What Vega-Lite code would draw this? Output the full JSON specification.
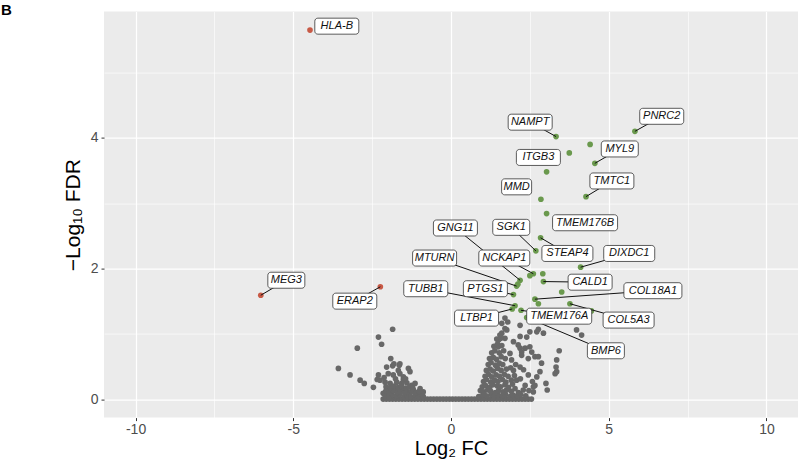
{
  "$schema": "https://vega.github.io/schema/vega-lite/v6.json",
  "width": 694,
  "height": 406,
  "autosize": {"type": "none"},
  "padding": {"left": 104, "top": 11.6, "right": 2, "bottom": 43.4},
  "background": "white",
  "view": {"fill": "#EBEBEB", "stroke": null},
  "title": {"text": "B", "anchor": "start", "frame": "group", "dx": -103, "offset": -6, "fontSize": 15, "fontWeight": "bold", "font": "Liberation Sans", "color": "black"},
  "config": {
    "font": "Liberation Sans",
    "axis": {"domain": false, "labelFont": "Liberation Sans", "labelFontSize": 14, "labelColor": "#4D4D4D", "tickColor": "#333333", "tickSize": 3, "tickWidth": 1, "gridColor": "#FFFFFF", "titleFont": "Liberation Sans", "titleFontSize": 21, "titleFontWeight": "normal", "titleColor": "#000000"}
  },
  "datasets": {
    "pts": [
      {"x": -4.47, "y": 5.65, "g": "down"}, {"x": -6.03, "y": 1.59, "g": "down"}, {"x": -2.24, "y": 1.72, "g": "down"},
      {"x": 3.33, "y": 4.02, "g": "up"}, {"x": 5.83, "y": 4.10, "g": "up"}, {"x": 4.41, "y": 3.90, "g": "up"}, {"x": 3.75, "y": 3.77, "g": "up"},
      {"x": 4.56, "y": 3.61, "g": "up"}, {"x": 3.03, "y": 3.48, "g": "up"}, {"x": 2.85, "y": 3.06, "g": "up"}, {"x": 4.28, "y": 3.10, "g": "up"},
      {"x": 3.03, "y": 2.84, "g": "up"}, {"x": 2.69, "y": 2.27, "g": "up"}, {"x": 2.84, "y": 2.47, "g": "up"}, {"x": 4.11, "y": 2.02, "g": "up"},
      {"x": 2.19, "y": 1.82, "g": "up"}, {"x": 2.12, "y": 1.76, "g": "up"}, {"x": 2.08, "y": 1.73, "g": "up"}, {"x": 2.61, "y": 1.92, "g": "up"},
      {"x": 2.50, "y": 1.89, "g": "up"}, {"x": 2.91, "y": 1.92, "g": "up"}, {"x": 2.93, "y": 1.80, "g": "up"}, {"x": 3.51, "y": 1.64, "g": "up"},
      {"x": 1.98, "y": 1.60, "g": "up"}, {"x": 2.03, "y": 1.43, "g": "up"}, {"x": 1.94, "y": 1.38, "g": "up"}, {"x": 2.22, "y": 1.36, "g": "up"},
      {"x": 2.66, "y": 1.53, "g": "up"}, {"x": 2.77, "y": 1.46, "g": "up"}, {"x": 3.77, "y": 1.46, "g": "up"}, {"x": 4.45, "y": 1.35, "g": "up"},
      {"x": 2.40, "y": 1.25, "g": "up"},
      {"x": -2.15, "y": 0, "g": "ns"}, {"x": -2.05, "y": 0, "g": "ns"}, {"x": -1.95, "y": 0, "g": "ns"}, {"x": -1.85, "y": 0, "g": "ns"},
      {"x": -1.75, "y": 0, "g": "ns"}, {"x": -1.65, "y": 0, "g": "ns"}, {"x": -1.55, "y": 0, "g": "ns"}, {"x": -1.45, "y": 0, "g": "ns"},
      {"x": -1.35, "y": 0, "g": "ns"}, {"x": -1.25, "y": 0, "g": "ns"}, {"x": -1.15, "y": 0, "g": "ns"}, {"x": -1.05, "y": 0, "g": "ns"},
      {"x": -0.95, "y": 0, "g": "ns"}, {"x": -0.85, "y": 0, "g": "ns"}, {"x": -0.75, "y": 0, "g": "ns"}, {"x": -0.65, "y": 0, "g": "ns"},
      {"x": -0.55, "y": 0, "g": "ns"}, {"x": -0.45, "y": 0, "g": "ns"}, {"x": -0.35, "y": 0, "g": "ns"}, {"x": -0.25, "y": 0, "g": "ns"},
      {"x": -0.15, "y": 0, "g": "ns"}, {"x": -0.05, "y": 0, "g": "ns"}, {"x": 0.05, "y": 0, "g": "ns"}, {"x": 0.15, "y": 0, "g": "ns"},
      {"x": 0.25, "y": 0, "g": "ns"}, {"x": 0.35, "y": 0, "g": "ns"}, {"x": 0.45, "y": 0, "g": "ns"}, {"x": 0.55, "y": 0, "g": "ns"},
      {"x": 0.65, "y": 0, "g": "ns"}, {"x": 0.75, "y": 0, "g": "ns"}, {"x": 0.85, "y": 0, "g": "ns"}, {"x": 0.95, "y": 0, "g": "ns"},
      {"x": 1.05, "y": 0, "g": "ns"}, {"x": 1.15, "y": 0, "g": "ns"}, {"x": 1.25, "y": 0, "g": "ns"}, {"x": 1.35, "y": 0, "g": "ns"},
      {"x": 1.45, "y": 0, "g": "ns"}, {"x": 1.55, "y": 0, "g": "ns"}, {"x": 1.65, "y": 0, "g": "ns"}, {"x": 1.75, "y": 0, "g": "ns"},
      {"x": 1.85, "y": 0, "g": "ns"}, {"x": 1.95, "y": 0, "g": "ns"}, {"x": 2.05, "y": 0, "g": "ns"}, {"x": 2.15, "y": 0, "g": "ns"},
      {"x": 2.25, "y": 0, "g": "ns"}, {"x": 2.35, "y": 0, "g": "ns"}, {"x": 2.45, "y": 0, "g": "ns"}, {"x": 2.55, "y": 0, "g": "ns"},
      {"x": -1.85, "y": 1.07, "g": "ns"}, {"x": -2.30, "y": 0.95, "g": "ns"}, {"x": -2.20, "y": 0.84, "g": "ns"}, {"x": -2.97, "y": 0.78, "g": "ns"},
      {"x": -3.57, "y": 0.47, "g": "ns"}, {"x": -3.20, "y": 0.37, "g": "ns"}, {"x": -2.88, "y": 0.29, "g": "ns"}, {"x": -2.75, "y": 0.24, "g": "ns"},
      {"x": -2.46, "y": 0.18, "g": "ns"}, {"x": -1.91, "y": 0.62, "g": "ns"}, {"x": -1.85, "y": 0.51, "g": "ns"}, {"x": -2.04, "y": 0.49, "g": "ns"},
      {"x": -1.64, "y": 0.52, "g": "ns"}, {"x": -1.81, "y": 0.54, "g": "ns"}, {"x": -1.35, "y": 0.47, "g": "ns"}, {"x": -1.30, "y": 0.42, "g": "ns"},
      {"x": -1.99, "y": 0.39, "g": "ns"}, {"x": -1.83, "y": 0.37, "g": "ns"}, {"x": -1.62, "y": 0.39, "g": "ns"}, {"x": -1.51, "y": 0.34, "g": "ns"},
      {"x": -2.30, "y": 0.37, "g": "ns"}, {"x": -2.25, "y": 0.29, "g": "ns"}, {"x": -2.34, "y": 0.30, "g": "ns"}, {"x": -2.09, "y": 0.26, "g": "ns"},
      {"x": -1.93, "y": 0.24, "g": "ns"}, {"x": -1.72, "y": 0.26, "g": "ns"}, {"x": -1.56, "y": 0.24, "g": "ns"}, {"x": -1.40, "y": 0.25, "g": "ns"},
      {"x": -1.25, "y": 0.21, "g": "ns"}, {"x": -1.14, "y": 0.24, "g": "ns"}, {"x": -2.04, "y": 0.16, "g": "ns"}, {"x": -1.88, "y": 0.14, "g": "ns"},
      {"x": -1.72, "y": 0.16, "g": "ns"}, {"x": -1.51, "y": 0.16, "g": "ns"}, {"x": -1.35, "y": 0.11, "g": "ns"}, {"x": -1.19, "y": 0.14, "g": "ns"},
      {"x": -0.98, "y": 0.16, "g": "ns"}, {"x": -1.09, "y": 0.09, "g": "ns"}, {"x": -0.98, "y": 0.06, "g": "ns"}, {"x": -0.88, "y": 0.04, "g": "ns"},
      {"x": -0.88, "y": 0.11, "g": "ns"}, {"x": -2.15, "y": 0.09, "g": "ns"}, {"x": -1.51, "y": 0.30, "g": "ns"}, {"x": -1.62, "y": 0.54, "g": "ns"},
      {"x": -2.09, "y": 0.06, "g": "ns"}, {"x": -1.97, "y": 0.04, "g": "ns"}, {"x": -1.87, "y": 0.07, "g": "ns"}, {"x": -1.73, "y": 0.05, "g": "ns"},
      {"x": -1.63, "y": 0.07, "g": "ns"}, {"x": -1.49, "y": 0.04, "g": "ns"}, {"x": -1.39, "y": 0.06, "g": "ns"}, {"x": -1.27, "y": 0.04, "g": "ns"},
      {"x": -1.13, "y": 0.06, "g": "ns"}, {"x": -1.03, "y": 0.04, "g": "ns"}, {"x": -0.91, "y": 0.07, "g": "ns"},
      {"x": -2.07, "y": 0.12, "g": "ns"}, {"x": -1.95, "y": 0.10, "g": "ns"}, {"x": -1.83, "y": 0.13, "g": "ns"}, {"x": -1.71, "y": 0.10, "g": "ns"},
      {"x": -1.61, "y": 0.12, "g": "ns"}, {"x": -1.47, "y": 0.10, "g": "ns"}, {"x": -1.25, "y": 0.12, "g": "ns"}, {"x": -1.11, "y": 0.10, "g": "ns"},
      {"x": -1.01, "y": 0.12, "g": "ns"},
      {"x": -2.06, "y": 0.19, "g": "ns"}, {"x": -1.92, "y": 0.17, "g": "ns"}, {"x": -1.81, "y": 0.20, "g": "ns"}, {"x": -1.67, "y": 0.18, "g": "ns"},
      {"x": -1.57, "y": 0.20, "g": "ns"}, {"x": -1.43, "y": 0.17, "g": "ns"}, {"x": -1.31, "y": 0.19, "g": "ns"}, {"x": -1.21, "y": 0.17, "g": "ns"},
      {"x": -1.76, "y": 0.31, "g": "ns"}, {"x": -2.12, "y": 0.33, "g": "ns"}, {"x": -1.44, "y": 0.31, "g": "ns"}, {"x": -1.67, "y": 0.44, "g": "ns"},
      {"x": 1.71, "y": 1.24, "g": "ns"}, {"x": 1.61, "y": 1.16, "g": "ns"}, {"x": 1.77, "y": 1.06, "g": "ns"}, {"x": 1.55, "y": 0.98, "g": "ns"},
      {"x": 2.19, "y": 1.13, "g": "ns"}, {"x": 2.50, "y": 1.03, "g": "ns"}, {"x": 2.77, "y": 1.07, "g": "ns"}, {"x": 1.98, "y": 0.88, "g": "ns"},
      {"x": 2.13, "y": 0.83, "g": "ns"}, {"x": 2.35, "y": 0.78, "g": "ns"}, {"x": 2.24, "y": 0.72, "g": "ns"}, {"x": 2.56, "y": 0.72, "g": "ns"},
      {"x": 2.66, "y": 0.65, "g": "ns"}, {"x": 2.93, "y": 1.01, "g": "ns"}, {"x": 3.43, "y": 0.74, "g": "ns"}, {"x": 3.35, "y": 0.60, "g": "ns"},
      {"x": 3.33, "y": 0.49, "g": "ns"}, {"x": 3.35, "y": 0.42, "g": "ns"}, {"x": 2.82, "y": 0.42, "g": "ns"}, {"x": 2.45, "y": 0.37, "g": "ns"},
      {"x": 3.01, "y": 0.24, "g": "ns"}, {"x": 3.05, "y": 0.14, "g": "ns"}, {"x": 2.66, "y": 0.21, "g": "ns"}, {"x": 2.29, "y": 0.14, "g": "ns"},
      {"x": 2.03, "y": 0.16, "g": "ns"}, {"x": 3.98, "y": 1.06, "g": "ns"}, {"x": 4.14, "y": 0.98, "g": "ns"}, {"x": 3.30, "y": 0.39, "g": "ns"},
      {"x": 2.61, "y": 0.11, "g": "ns"}, {"x": 2.72, "y": 1.03, "g": "ns"}, {"x": 2.19, "y": 0.96, "g": "ns"}, {"x": 2.50, "y": 0.80, "g": "ns"},
      {"x": 2.77, "y": 0.65, "g": "ns"}, {"x": 2.19, "y": 0.78, "g": "ns"}, {"x": 2.24, "y": 0.67, "g": "ns"}, {"x": 2.45, "y": 0.62, "g": "ns"},
      {"x": 1.87, "y": 0.70, "g": "ns"}, {"x": 1.92, "y": 0.60, "g": "ns"}, {"x": 1.71, "y": 1.08, "g": "ns"}, {"x": 1.61, "y": 1.01, "g": "ns"},
      {"x": 1.71, "y": 0.93, "g": "ns"}, {"x": 1.50, "y": 0.80, "g": "ns"}, {"x": 2.19, "y": 0.49, "g": "ns"}, {"x": 1.98, "y": 0.44, "g": "ns"},
      {"x": 2.08, "y": 0.29, "g": "ns"}, {"x": 2.35, "y": 0.21, "g": "ns"}, {"x": 2.61, "y": 0.19, "g": "ns"}, {"x": 2.72, "y": 0.34, "g": "ns"},
      {"x": 1.80, "y": 1.18, "g": "ns"}, {"x": 1.50, "y": 0.90, "g": "ns"}, {"x": 2.87, "y": 0.55, "g": "ns"}, {"x": 2.40, "y": 0.95, "g": "ns"},
      {"x": 0.88, "y": 0.04, "g": "ns"}, {"x": 1.01, "y": 0.06, "g": "ns"}, {"x": 1.12, "y": 0.05, "g": "ns"}, {"x": 1.27, "y": 0.07, "g": "ns"},
      {"x": 1.37, "y": 0.04, "g": "ns"}, {"x": 1.49, "y": 0.06, "g": "ns"}, {"x": 1.63, "y": 0.05, "g": "ns"}, {"x": 1.73, "y": 0.07, "g": "ns"},
      {"x": 1.87, "y": 0.04, "g": "ns"}, {"x": 1.97, "y": 0.06, "g": "ns"}, {"x": 2.11, "y": 0.05, "g": "ns"}, {"x": 2.21, "y": 0.07, "g": "ns"},
      {"x": 2.37, "y": 0.05, "g": "ns"},
      {"x": 0.93, "y": 0.13, "g": "ns"}, {"x": 1.04, "y": 0.11, "g": "ns"}, {"x": 1.16, "y": 0.14, "g": "ns"}, {"x": 1.26, "y": 0.12, "g": "ns"},
      {"x": 1.41, "y": 0.10, "g": "ns"}, {"x": 1.51, "y": 0.13, "g": "ns"}, {"x": 1.65, "y": 0.11, "g": "ns"}, {"x": 1.76, "y": 0.14, "g": "ns"},
      {"x": 1.91, "y": 0.12, "g": "ns"}, {"x": 2.14, "y": 0.10, "g": "ns"}, {"x": 2.47, "y": 0.13, "g": "ns"},
      {"x": 0.99, "y": 0.19, "g": "ns"}, {"x": 1.09, "y": 0.21, "g": "ns"}, {"x": 1.23, "y": 0.18, "g": "ns"}, {"x": 1.33, "y": 0.22, "g": "ns"},
      {"x": 1.47, "y": 0.20, "g": "ns"}, {"x": 1.57, "y": 0.19, "g": "ns"}, {"x": 1.71, "y": 0.22, "g": "ns"}, {"x": 1.82, "y": 0.18, "g": "ns"},
      {"x": 1.95, "y": 0.23, "g": "ns"},
      {"x": 1.03, "y": 0.27, "g": "ns"}, {"x": 1.12, "y": 0.30, "g": "ns"}, {"x": 1.26, "y": 0.26, "g": "ns"}, {"x": 1.38, "y": 0.29, "g": "ns"},
      {"x": 1.49, "y": 0.27, "g": "ns"}, {"x": 1.63, "y": 0.30, "g": "ns"}, {"x": 1.74, "y": 0.26, "g": "ns"}, {"x": 1.91, "y": 0.29, "g": "ns"},
      {"x": 2.20, "y": 0.31, "g": "ns"}, {"x": 2.58, "y": 0.27, "g": "ns"},
      {"x": 1.08, "y": 0.35, "g": "ns"}, {"x": 1.19, "y": 0.38, "g": "ns"}, {"x": 1.29, "y": 0.34, "g": "ns"}, {"x": 1.43, "y": 0.37, "g": "ns"},
      {"x": 1.54, "y": 0.35, "g": "ns"}, {"x": 1.69, "y": 0.38, "g": "ns"}, {"x": 1.81, "y": 0.35, "g": "ns"}, {"x": 2.01, "y": 0.36, "g": "ns"},
      {"x": 1.12, "y": 0.44, "g": "ns"}, {"x": 1.24, "y": 0.46, "g": "ns"}, {"x": 1.34, "y": 0.43, "g": "ns"}, {"x": 1.48, "y": 0.47, "g": "ns"},
      {"x": 1.59, "y": 0.44, "g": "ns"}, {"x": 1.76, "y": 0.46, "g": "ns"}, {"x": 1.89, "y": 0.48, "g": "ns"}, {"x": 2.30, "y": 0.45, "g": "ns"},
      {"x": 1.18, "y": 0.53, "g": "ns"}, {"x": 1.27, "y": 0.56, "g": "ns"}, {"x": 1.41, "y": 0.52, "g": "ns"}, {"x": 1.53, "y": 0.55, "g": "ns"},
      {"x": 1.64, "y": 0.53, "g": "ns"}, {"x": 2.05, "y": 0.53, "g": "ns"},
      {"x": 1.22, "y": 0.62, "g": "ns"}, {"x": 1.34, "y": 0.64, "g": "ns"}, {"x": 1.44, "y": 0.61, "g": "ns"}, {"x": 1.59, "y": 0.65, "g": "ns"},
      {"x": 1.72, "y": 0.62, "g": "ns"},
      {"x": 1.29, "y": 0.71, "g": "ns"}, {"x": 1.39, "y": 0.74, "g": "ns"}, {"x": 1.53, "y": 0.71, "g": "ns"}, {"x": 1.67, "y": 0.74, "g": "ns"},
      {"x": 1.36, "y": 0.81, "g": "ns"}, {"x": 1.47, "y": 0.84, "g": "ns"}, {"x": 1.61, "y": 0.82, "g": "ns"},
      {"x": 1.45, "y": 0.92, "g": "ns"}, {"x": 1.58, "y": 0.93, "g": "ns"}
    ],
    "labs": [
      {"gene": "HLA-B", "x": -4.47, "y": 5.65, "lx": -3.62, "ly": 5.71},
      {"gene": "MEG3", "x": -6.03, "y": 1.59, "lx": -5.22, "ly": 1.82},
      {"gene": "ERAP2", "x": -2.24, "y": 1.72, "lx": -3.05, "ly": 1.50},
      {"gene": "NAMPT", "x": 3.33, "y": 4.02, "lx": 2.51, "ly": 4.24},
      {"gene": "PNRC2", "x": 5.83, "y": 4.10, "lx": 6.68, "ly": 4.33},
      {"gene": "MYL9", "x": 4.56, "y": 3.61, "lx": 5.35, "ly": 3.83},
      {"gene": "ITGB3", "x": 3.03, "y": 3.48, "lx": 2.77, "ly": 3.70},
      {"gene": "MMD", "x": 2.85, "y": 3.06, "lx": 2.08, "ly": 3.25},
      {"gene": "TMTC1", "x": 4.28, "y": 3.10, "lx": 5.10, "ly": 3.34},
      {"gene": "TMEM176B", "x": 3.03, "y": 2.84, "lx": 4.25, "ly": 2.70},
      {"gene": "SGK1", "x": 2.69, "y": 2.27, "lx": 1.91, "ly": 2.63},
      {"gene": "STEAP4", "x": 2.84, "y": 2.47, "lx": 3.69, "ly": 2.23},
      {"gene": "DIXDC1", "x": 4.11, "y": 2.02, "lx": 5.65, "ly": 2.23},
      {"gene": "GNG11", "x": 2.19, "y": 1.82, "lx": 0.14, "ly": 2.62},
      {"gene": "NCKAP1", "x": 2.61, "y": 1.92, "lx": 1.69, "ly": 2.16},
      {"gene": "MTURN", "x": 2.08, "y": 1.73, "lx": -0.52, "ly": 2.16},
      {"gene": "TUBB1", "x": 2.03, "y": 1.43, "lx": -0.80, "ly": 1.69},
      {"gene": "PTGS1", "x": 1.98, "y": 1.60, "lx": 1.09, "ly": 1.69},
      {"gene": "LTBP1", "x": 1.94, "y": 1.38, "lx": 0.81, "ly": 1.24},
      {"gene": "TMEM176A", "x": 2.22, "y": 1.36, "lx": 3.43, "ly": 1.27},
      {"gene": "CALD1", "x": 2.93, "y": 1.80, "lx": 4.41, "ly": 1.79},
      {"gene": "COL18A1", "x": 2.66, "y": 1.53, "lx": 6.40, "ly": 1.66},
      {"gene": "COL5A3", "x": 3.77, "y": 1.46, "lx": 5.63, "ly": 1.21},
      {"gene": "BMP6", "x": 2.40, "y": 1.25, "lx": 4.91, "ly": 0.74}
    ]
  },
  "layer": [
    {
      "data": {"name": "pts"},
      "mark": {"type": "circle", "size": 32, "opacity": 1},
      "encoding": {
        "x": {"field": "x", "type": "quantitative", "scale": {"domain": [-11, 11], "nice": false, "zero": false},
          "axis": {"title": "Log₂ FC", "values": [-10, -7.5, -5, -2.5, 0, 2.5, 5, 7.5, 10],
            "labelExpr": "datum.value % 5 === 0 ? (datum.value < 0 ? '-' + (-datum.value) : '' + datum.value) : ''",
            "tickOpacity": {"condition": {"test": "datum.value % 5 !== 0", "value": 0}, "value": 1},
            "gridWidth": {"condition": {"test": "datum.value % 5 !== 0", "value": 0.6}, "value": 1.2},
            "labelPadding": 2, "titlePadding": 2, "titleFontSize": 20}},
        "y": {"field": "y", "type": "quantitative", "scale": {"domain": [-0.283, 5.933], "nice": false, "zero": false},
          "axis": {"title": "−Log₁₀ FDR", "values": [0, 1, 2, 3, 4, 5],
            "labelExpr": "datum.value % 2 === 0 ? '' + datum.value : ''",
            "tickOpacity": {"condition": {"test": "datum.value % 2 !== 0", "value": 0}, "value": 1},
            "gridWidth": {"condition": {"test": "datum.value % 2 !== 0", "value": 0.6}, "value": 1.2},
            "labelPadding": 3, "titlePadding": 7}},
        "color": {"field": "g", "type": "nominal", "scale": {"domain": ["down", "ns", "up"], "range": ["#C85A46", "#686868", "#6A994D"]}, "legend": null}
      }
    },
    {
      "data": {"name": "labs"},
      "transform": [{"filter": {"field": "gene", "oneOf": ["MEG3", "ERAP2", "NAMPT", "PNRC2", "MYL9", "TMTC1", "SGK1", "STEAP4", "DIXDC1", "GNG11", "NCKAP1", "MTURN", "TUBB1", "PTGS1", "LTBP1", "TMEM176A", "CALD1", "COL18A1", "COL5A3", "BMP6"]}}],
      "mark": {"type": "rule", "color": "#111111", "strokeWidth": 1},
      "encoding": {
        "x": {"field": "x", "type": "quantitative"},
        "y": {"field": "y", "type": "quantitative"},
        "x2": {"field": "lx"},
        "y2": {"field": "ly"}
      }
    },
    {
      "data": {"name": "labs"},
      "mark": {"type": "rect", "fill": "white", "stroke": "#333333", "strokeWidth": 0.8, "cornerRadius": 3,
        "xOffset": {"expr": "-(length(datum.gene) * 3.5 + 4.5)"},
        "x2Offset": {"expr": "length(datum.gene) * 3.5 + 4.5"},
        "yOffset": -8, "y2Offset": 8},
      "encoding": {
        "x": {"field": "lx", "type": "quantitative"},
        "x2": {"field": "lx"},
        "y": {"field": "ly", "type": "quantitative"},
        "y2": {"field": "ly"}
      }
    },
    {
      "data": {"name": "labs"},
      "mark": {"type": "text", "font": "Liberation Sans", "fontSize": 11, "fontStyle": "italic", "color": "#111111", "align": "center", "baseline": "middle"},
      "encoding": {
        "x": {"field": "lx", "type": "quantitative"},
        "y": {"field": "ly", "type": "quantitative"},
        "text": {"field": "gene"}
      }
    }
  ]
}
